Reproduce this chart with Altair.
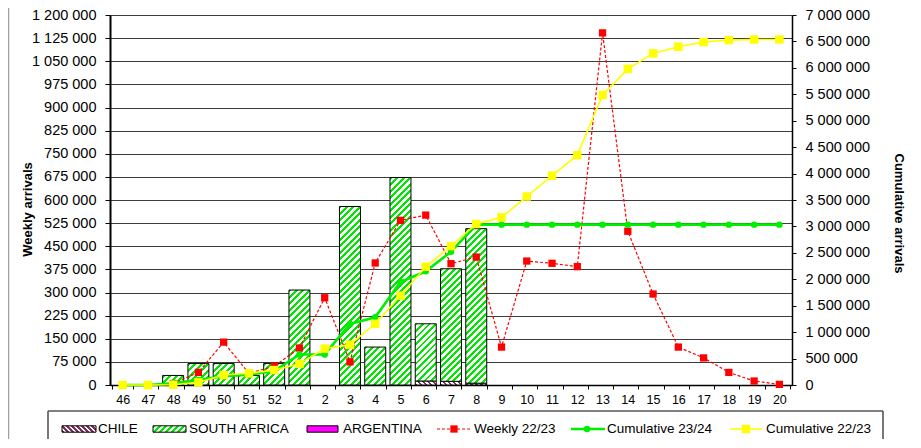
import altair as alt

# ---------------- data ----------------
weeks = ["46", "47", "48", "49", "50", "51", "52", "1", "2", "3", "4", "5", "6", "7",
         "8", "9", "10", "11", "12", "13", "14", "15", "16", "17", "18", "19", "20"]

chile = [0, 0, 0, 0, 0, 0, 0, 0, 0, 0, 0, 0, 13000, 12000,
         6000, 0, 0, 0, 0, 0, 0, 0, 0, 0, 0, 0, 0]
south_africa = [0, 0, 31000, 69500, 69500, 31000, 70000, 308000, 0, 579000, 123000, 673000, 185500, 365000,
                501000, 0, 0, 0, 0, 0, 0, 0, 0, 0, 0, 0, 0]
argentina = [0] * 27

weekly_2223 = [0, 0, 5000, 41000, 139000, 37600, 61000, 120000, 283000, 75000, 395700, 534000, 551000, 393500,
               415000, 123000, 402000, 394700, 383800, 1142000, 498600, 295000, 123000, 87800, 40800, 12900, 2000]
cum_2324 = [0, 0, 31000, 97000, 165000, 195000, 263000, 578000, 578000, 1155000, 1280000, 1950000, 2150000, 2520000,
            3034000, 3034000, 3034000, 3034000, 3034000, 3034000, 3034000, 3034000, 3034000, 3034000, 3034000,
            3034000, 3034000]
cum_2223 = [0, 0, 5000, 50000, 188000, 221000, 282000, 401000, 688000, 763000, 1158000, 1689000, 2236000, 2628000,
            3046000, 3171600, 3566000, 3960000, 4348000, 5486000, 5981000, 6274000, 6400000, 6488000, 6525000,
            6537000, 6537000]

left_ticks = list(range(0, 1200001, 75000))
right_ticks = list(range(0, 7000001, 500000))

# ---------------- layout / style ----------------
W, H = 682, 370
LEFT_MAX, RIGHT_MAX = 1200000, 7000000
P_IN = 0.17
BAND_W = W / len(weeks) * (1 - P_IN)
FONT = "Liberation Sans"
SA_GREEN = "#00e600"
CHILE_COL = "#7f2f5f"


def hatch(w, h, color, period=6.0, direction="/", frac=0.45):
    """Diagonal stripes as a linear gradient (objectBoundingBox units)."""
    S = w + h
    stops = []
    k = 0
    while k * period < S:
        a = k * period / S
        b = min((k * period + period * frac) / S, 1.0)
        c = min((k + 1) * period / S, 1.0)
        stops += [{"offset": round(a, 5), "color": color},
                  {"offset": round(b, 5), "color": color},
                  {"offset": round(b, 5), "color": "white"},
                  {"offset": round(c, 5), "color": "white"}]
        k += 1
    d = w * w + h * h
    if direction == "/":
        return {"gradient": "linear", "x1": 0, "y1": 0,
                "x2": w * S / d, "y2": h * S / d, "stops": stops}
    return {"gradient": "linear", "x1": 0, "y1": 1,
            "x2": w * S / d, "y2": 1 - h * S / d, "stops": stops}


# ---------------- tables ----------------
line_rows = [{"week": w, "weekly": a, "c2324": b, "c2223": c}
             for w, a, b, c in zip(weeks, weekly_2223, cum_2324, cum_2223)]

chile_rows, sa_rows, arg_rows = [], [], []
for w, c, s, a in zip(weeks, chile, south_africa, argentina):
    if c > 0:
        chile_rows.append({"week": w, "base": 0, "top": c,
                           "grad": hatch(BAND_W, c / LEFT_MAX * H, CHILE_COL, 5.0, "\\")})
    if s > 0:
        sa_rows.append({"week": w, "base": c, "top": c + s,
                        "grad": hatch(BAND_W, s / LEFT_MAX * H, SA_GREEN, 6.5, "/")})
    if a > 0:
        arg_rows.append({"week": w, "base": c + s, "top": c + s + a})

X = alt.X("week:N", sort=weeks,
          scale=alt.Scale(paddingInner=P_IN, paddingOuter=P_IN / 2),
          axis=alt.Axis(title=None, labelAngle=0, tickBand="extent", tickSize=4,
                        tickColor="black", domainColor="black", domainWidth=1.5,
                        labelFontSize=12.5, labelPadding=4, labelColor="black", grid=False))

label_expr = "replace(format(datum.value, ','), /,/g, ' ')"

left_scale = alt.Scale(domain=[0, LEFT_MAX], nice=False, zero=True)
right_scale = alt.Scale(domain=[0, RIGHT_MAX], nice=False, zero=True)

left_axis = alt.Axis(values=left_ticks, labelExpr=label_expr, title="Weekly arrivals",
                     titleFontSize=13, titleFontWeight="bold", titleColor="black",
                     titleX=-83, titleY=194, titleBaseline="middle",
                     grid=True, gridColor="#3c3c3c", gridWidth=1,
                     domainColor="black", domainWidth=2, tickColor="black", tickSize=5,
                     labelFontSize=14.5, labelPadding=9, labelColor="black")
right_axis = alt.Axis(values=right_ticks, labelExpr=label_expr, title="Cumulative arrivals",
                      orient="right", titleFontSize=13, titleFontWeight="bold", titleColor="black",
                      titleX=106, titleY=198, titleBaseline="middle", titleAngle=90,
                      grid=False, domainColor="black", domainWidth=1.5, tickColor="black", tickSize=4,
                      labelFontSize=14.5, labelPadding=9, labelColor="black")

# ---------------- left-axis layers ----------------
chile_bars = alt.Chart(alt.Data(values=chile_rows)).mark_bar(stroke="black", strokeWidth=1).encode(
    x=X, y=alt.Y("top:Q", scale=left_scale, axis=left_axis), y2="base:Q",
    fill=alt.Fill("grad:N", scale=None))
sa_bars = alt.Chart(alt.Data(values=sa_rows)).mark_bar(stroke="black", strokeWidth=1).encode(
    x=X, y=alt.Y("top:Q", scale=left_scale, axis=left_axis), y2="base:Q",
    fill=alt.Fill("grad:N", scale=None))

base_lines = alt.Chart(alt.Data(values=line_rows))
weekly_line = base_lines.mark_line(color="#ff0000", strokeWidth=1.2, strokeDash=[3, 2]).encode(
    x=X, y=alt.Y("weekly:Q", scale=left_scale, axis=left_axis))
weekly_pts = base_lines.mark_point(shape="square", filled=True, size=53, color="#ff0000", opacity=1).encode(
    x=X, y=alt.Y("weekly:Q", scale=left_scale, axis=left_axis))

left_layer = alt.layer(chile_bars, sa_bars, weekly_line, weekly_pts)

# ---------------- right-axis layers ----------------
c24_line = base_lines.mark_line(color="#00ee00", strokeWidth=2.6).encode(
    x=X, y=alt.Y("c2324:Q", scale=right_scale, axis=right_axis))
c24_pts = base_lines.mark_point(shape="circle", filled=True, size=42, color="#00ee00", opacity=1).encode(
    x=X, y=alt.Y("c2324:Q", scale=right_scale, axis=right_axis))
c23_line = base_lines.mark_line(color="#ffff00", strokeWidth=1.6).encode(
    x=X, y=alt.Y("c2223:Q", scale=right_scale, axis=right_axis))
c23_pts = base_lines.mark_point(shape="square", filled=True, size=72, color="#ffff00", opacity=1).encode(
    x=X, y=alt.Y("c2223:Q", scale=right_scale, axis=right_axis))

right_layer = alt.layer(c24_line, c24_pts, c23_line, c23_pts)

# ---------------- legend (manual, Excel style) ----------------
one = alt.Data(values=[{"k": 0}])
LY = 414
BOX_TOP = 396
BOX_BOTTOM = 424
box_col = "#555555"
legend_parts = [
    alt.Chart(one).mark_rule(color=box_col, strokeWidth=1.6).encode(
        x=alt.value(-62), x2=alt.value(773), y=alt.value(BOX_TOP)),
    alt.Chart(one).mark_rule(color=box_col, strokeWidth=1.6).encode(
        x=alt.value(-62), y=alt.value(BOX_TOP), y2=alt.value(BOX_BOTTOM)),
    alt.Chart(one).mark_rule(color=box_col, strokeWidth=1.6).encode(
        x=alt.value(773), y=alt.value(BOX_TOP), y2=alt.value(BOX_BOTTOM)),
    alt.Chart(one).mark_rule(color="#a0a0a0", strokeWidth=1.5).encode(
        x=alt.value(-101.5), y=alt.value(-7), y2=alt.value(BOX_BOTTOM)),
]


def swatch(x0, x1, fill):
    return alt.Chart(one).mark_rect(stroke="black", strokeWidth=1).encode(
        x=alt.value(x0), x2=alt.value(x1), y=alt.value(LY - 3.2), y2=alt.value(LY + 3.2),
        fill=alt.value(fill))


def label(x0, txt):
    return alt.Chart(one).mark_text(align="left", baseline="middle", fontSize=13.5,
                                    font=FONT, color="black").encode(
        x=alt.value(x0), y=alt.value(LY), text=alt.value(txt))


legend_parts += [
    swatch(-48, -14, hatch(34, 6.4, CHILE_COL, 5.0, "\\")),
    label(-12, "CHILE"),
    swatch(43, 76, hatch(33, 6.4, SA_GREEN, 6.0, "/")),
    label(79, "SOUTH AFRICA"),
    swatch(197, 228, "#ff00ff"),
    label(233, "ARGENTINA"),
    alt.Chart(one).mark_rule(color="#ff0000", strokeWidth=1.2, strokeDash=[3, 2]).encode(
        x=alt.value(327), x2=alt.value(362), y=alt.value(LY)),
    alt.Chart(one).mark_point(shape="square", filled=True, size=53, color="#ff0000", opacity=1).encode(
        x=alt.value(344), y=alt.value(LY)),
    label(364, "Weekly 22/23"),
    alt.Chart(one).mark_rule(color="#00ee00", strokeWidth=2.6).encode(
        x=alt.value(461), x2=alt.value(495), y=alt.value(LY)),
    alt.Chart(one).mark_point(shape="circle", filled=True, size=42, color="#00ee00", opacity=1).encode(
        x=alt.value(477), y=alt.value(LY)),
    label(497, "Cumulative 23/24"),
    alt.Chart(one).mark_rule(color="#ffff00", strokeWidth=1.6).encode(
        x=alt.value(620), x2=alt.value(652), y=alt.value(LY)),
    alt.Chart(one).mark_point(shape="square", filled=True, size=72, color="#ffff00", opacity=1).encode(
        x=alt.value(636), y=alt.value(LY)),
    label(656, "Cumulative 22/23"),
]

chart = alt.layer(left_layer, right_layer, *legend_parts).resolve_scale(
    y="independent"
).properties(
    width=W, height=H,
    autosize=alt.AutoSizeParams(type="none"),
    padding={"left": 102, "top": 7, "right": 121, "bottom": 54},
).configure(font=FONT).configure_view(stroke=None)

chart.save("out.html", embed_options={"renderer": "svg", "actions": False})
